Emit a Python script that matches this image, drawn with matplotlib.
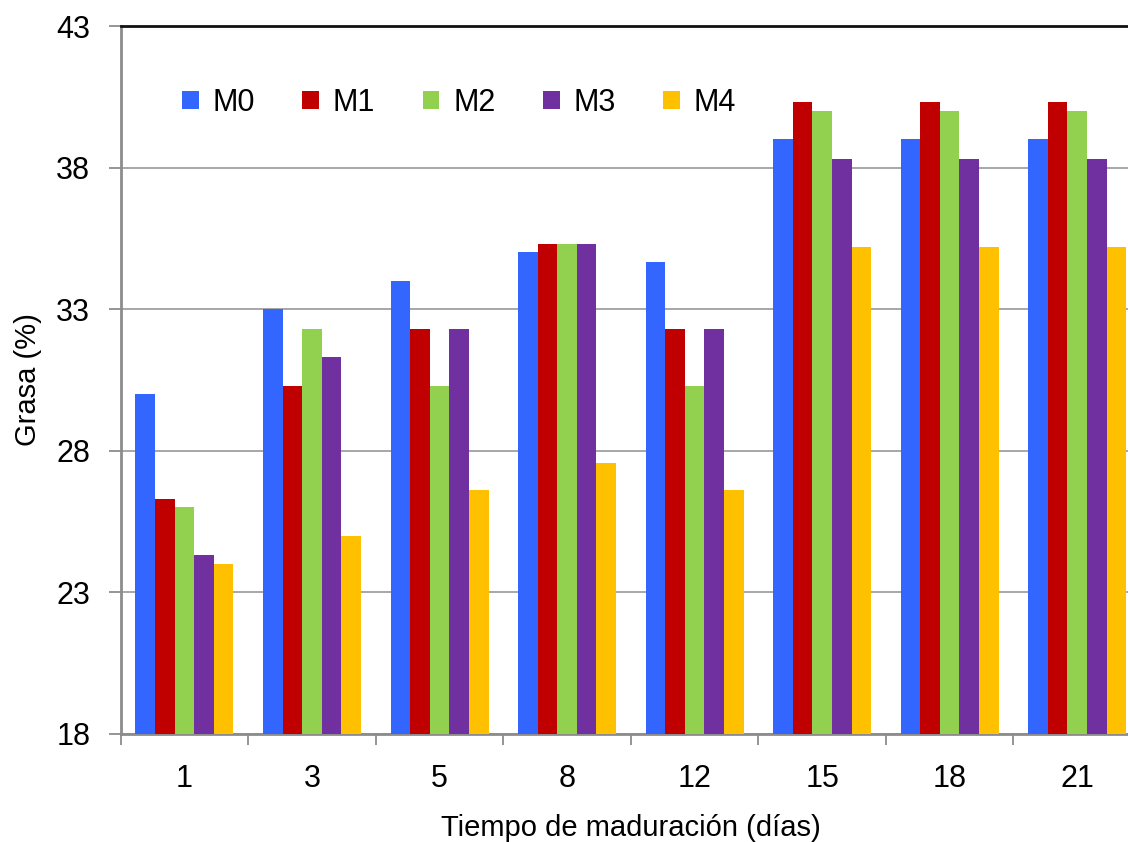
import numpy as np
import matplotlib.pyplot as plt

plt.rcParams['font.family'] = ['Liberation Sans', 'DejaVu Sans']

dias = ['1', '3', '5', '8', '12', '15', '18', '21']
m0 = [30.0, 33.0, 34.0, 35.0, 34.65, 39.0, 39.0, 39.0]
m1 = [26.3, 30.3, 32.3, 35.3, 32.3, 40.3, 40.3, 40.3]
m2 = [26.0, 32.3, 30.3, 35.3, 30.3, 40.0, 40.0, 40.0]
m3 = [24.3, 31.3, 32.3, 35.3, 32.3, 38.3, 38.3, 38.3]
m4 = [24.0, 25.0, 26.6, 27.55, 26.6, 35.2, 35.2, 35.2]

series = [('M0', m0, '#3366FF'),
          ('M1', m1, '#C00000'),
          ('M2', m2, '#92D050'),
          ('M3', m3, '#7030A0'),
          ('M4', m4, '#FFC000')]

fig = plt.figure(figsize=(11.28, 8.42), dpi=100)
# the plot area runs slightly past the right edge of the figure
ax = fig.add_axes([0.107, 0.1286, 0.9045, 0.8405])

x = np.arange(len(dias))
w = 0.1536
for i, (name, vals, col) in enumerate(series):
    ax.bar(x + (i - 2) * w, vals, width=w, color=col, label=name,
           zorder=3, linewidth=0)

ax.set_ylim(18, 43)
ax.set_xlim(-0.5, len(dias) - 0.5)
ax.set_yticks([18, 23, 28, 33, 38, 43])
ax.yaxis.grid(True, color='#A0A0A0', linewidth=1.3, zorder=0)

# tick marks at group boundaries, labels at group centres
ax.set_xticks(np.arange(len(dias) + 1) - 0.5)
ax.set_xticklabels([])
ax.set_xticks(x, minor=True)
ax.set_xticklabels(dias, minor=True)
ax.tick_params(axis='x', which='major', direction='out', length=8,
               width=1.3, color='#8C8C8C')
ax.tick_params(axis='x', which='minor', length=0, pad=22, labelsize=22)
ax.tick_params(axis='y', direction='out', length=9, width=1.3,
               color='#8C8C8C', labelsize=22, pad=13)

for side in ['left', 'bottom']:
    ax.spines[side].set_color('#8C8C8C')
    ax.spines[side].set_linewidth(2)
ax.spines['top'].set_color('#111111')
ax.spines['top'].set_linewidth(2)
ax.spines['right'].set_color('#8C8C8C')

ax.set_xlabel('Tiempo de maduración (días)', fontsize=21, labelpad=14)
ax.set_ylabel('Grasa (%)', fontsize=21, labelpad=10)

ax.legend(loc='upper left', bbox_to_anchor=(0.048, 0.93), ncol=5,
          frameon=False, fontsize=22, handlelength=0.55, handleheight=0.55,
          handletextpad=0.45, columnspacing=1.55, borderaxespad=0)

fig.savefig('out.png', dpi=100)
